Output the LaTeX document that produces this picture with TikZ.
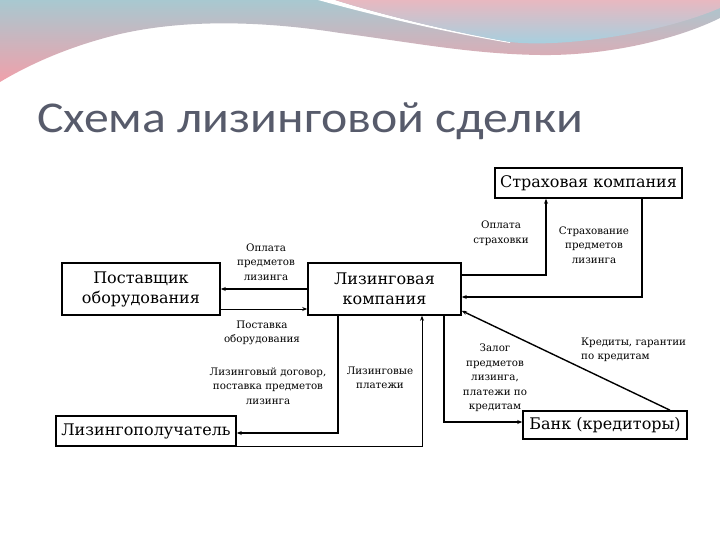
\documentclass[tikz,border=0pt]{standalone}
\usepackage{fontspec}
\setmainfont{DejaVu Serif}
\newfontfamily\titlefont{Carlito}
\usetikzlibrary{arrows.meta,calc}
\definecolor{titlegray}{HTML}{575B6B}
\definecolor{tealA}{HTML}{A8C8D0}
\definecolor{pinkA}{HTML}{F0A0AA}
\definecolor{pinkB}{HTML}{E8B8C0}
\definecolor{blueB}{HTML}{A0D2E2}
\tikzset{
  box/.style={draw=black, line width=1.6pt, inner sep=0pt, align=center, font=\fontsize{16}{20}\selectfont},
  lbl/.style={align=center, inner sep=0pt, font=\fontsize{10.3}{14.5}\selectfont},
  conn/.style={line width=1.4pt, -{Stealth[length=5pt,width=4pt]}},
  thin conn/.style={line width=0.9pt, -{Stealth[length=5pt,width=4pt]}}
}
\begin{document}
\begin{tikzpicture}[x=1pt,y=-1pt]
\useasboundingbox (0,0) rectangle (720,540);
\fill[white] (0,0) rectangle (720,540);
% background waves
\shade[top color=tealA, bottom color=pinkA]
  (0,0) -- (720,0) -- (720,18) .. controls (680,38) and (610,56) .. (540,55)
  .. controls (470,54) and (410,42) .. (340,33)
  .. controls (270,22) and (190,18) .. (120,34)
  .. controls (70,46) and (30,64) .. (0,82) -- cycle;
\fill[white] (318,0) .. controls (340,6) and (420,28) .. (510,43)
  -- (510,42) .. controls (430,28) and (360,8) .. (335,0) -- cycle;
\shade[top color=pinkB, bottom color=blueB]
  (335,0) .. controls (360,8) and (430,28) .. (510,42)
  .. controls (560,48) and (660,34) .. (720,8) -- (720,0) -- cycle;
% title
\node[anchor=base west, inner sep=0pt, text=titlegray, xscale=1.13, font=\titlefont\fontsize{44}{50}\selectfont] (title) at (37,133) {Схема лизинговой сделки};
% boxes
\node[box, minimum width=187pt, minimum height=30pt] (ins) at (588.5,183) {Страховая компания};
\node[box, minimum width=158pt, minimum height=52pt] (sup) at (141,289) {Поставщик\\оборудования};
\node[box, minimum width=153pt, minimum height=52pt] (lc) at (384.5,289) {Лизинговая\\компания};
\node[box, minimum width=180pt, minimum height=30pt] (les) at (146,431) {Лизингополучатель};
\node[box, minimum width=164pt, minimum height=28pt] (bank) at (605,425) {Банк (кредиторы)};
% labels
\node[lbl] (l1) at (266,262) {Оплата\\предметов\\лизинга};
\node[lbl] (l2) at (262,333) {Поставка\\оборудования};
\node[lbl] (l3) at (268,386) {Лизинговый договор,\\поставка предметов\\лизинга};
\node[lbl] (l4) at (380,378) {Лизинговые\\платежи};
\node[lbl] (l5) at (501,233) {Оплата\\страховки};
\node[lbl] (l6) at (594,245) {Страхование\\предметов\\лизинга};
\node[lbl] (l7) at (495,378) {Залог\\предметов\\лизинга,\\платежи по\\кредитам};
\node[lbl, align=left, anchor=west] (l8) at (581,350) {Кредиты, гарантии\\по кредитам};
% connectors
\draw[conn] (lc.west) -- (sup.east);
\draw[thin conn] ([yshift=-20pt]sup.east) -- ([yshift=-20pt]lc.west);
\draw[conn] ([yshift=14pt]lc.east) -| ([xshift=-42.5pt]ins.south);
\draw[conn] ([xshift=53.5pt]ins.south) |- ([yshift=-8pt]lc.east);
\draw[conn] ([xshift=-46.5pt]lc.south) |- ([yshift=-2pt]les.east);
\draw[thin conn] (les.south east) -| ([xshift=37.5pt]lc.south);
\draw[conn] ([xshift=59.5pt]lc.south) |- ([yshift=3pt]bank.west);
\draw[conn] ([xshift=65pt]bank.north) -- ([yshift=5pt]lc.south east);
\end{tikzpicture}
\end{document}
